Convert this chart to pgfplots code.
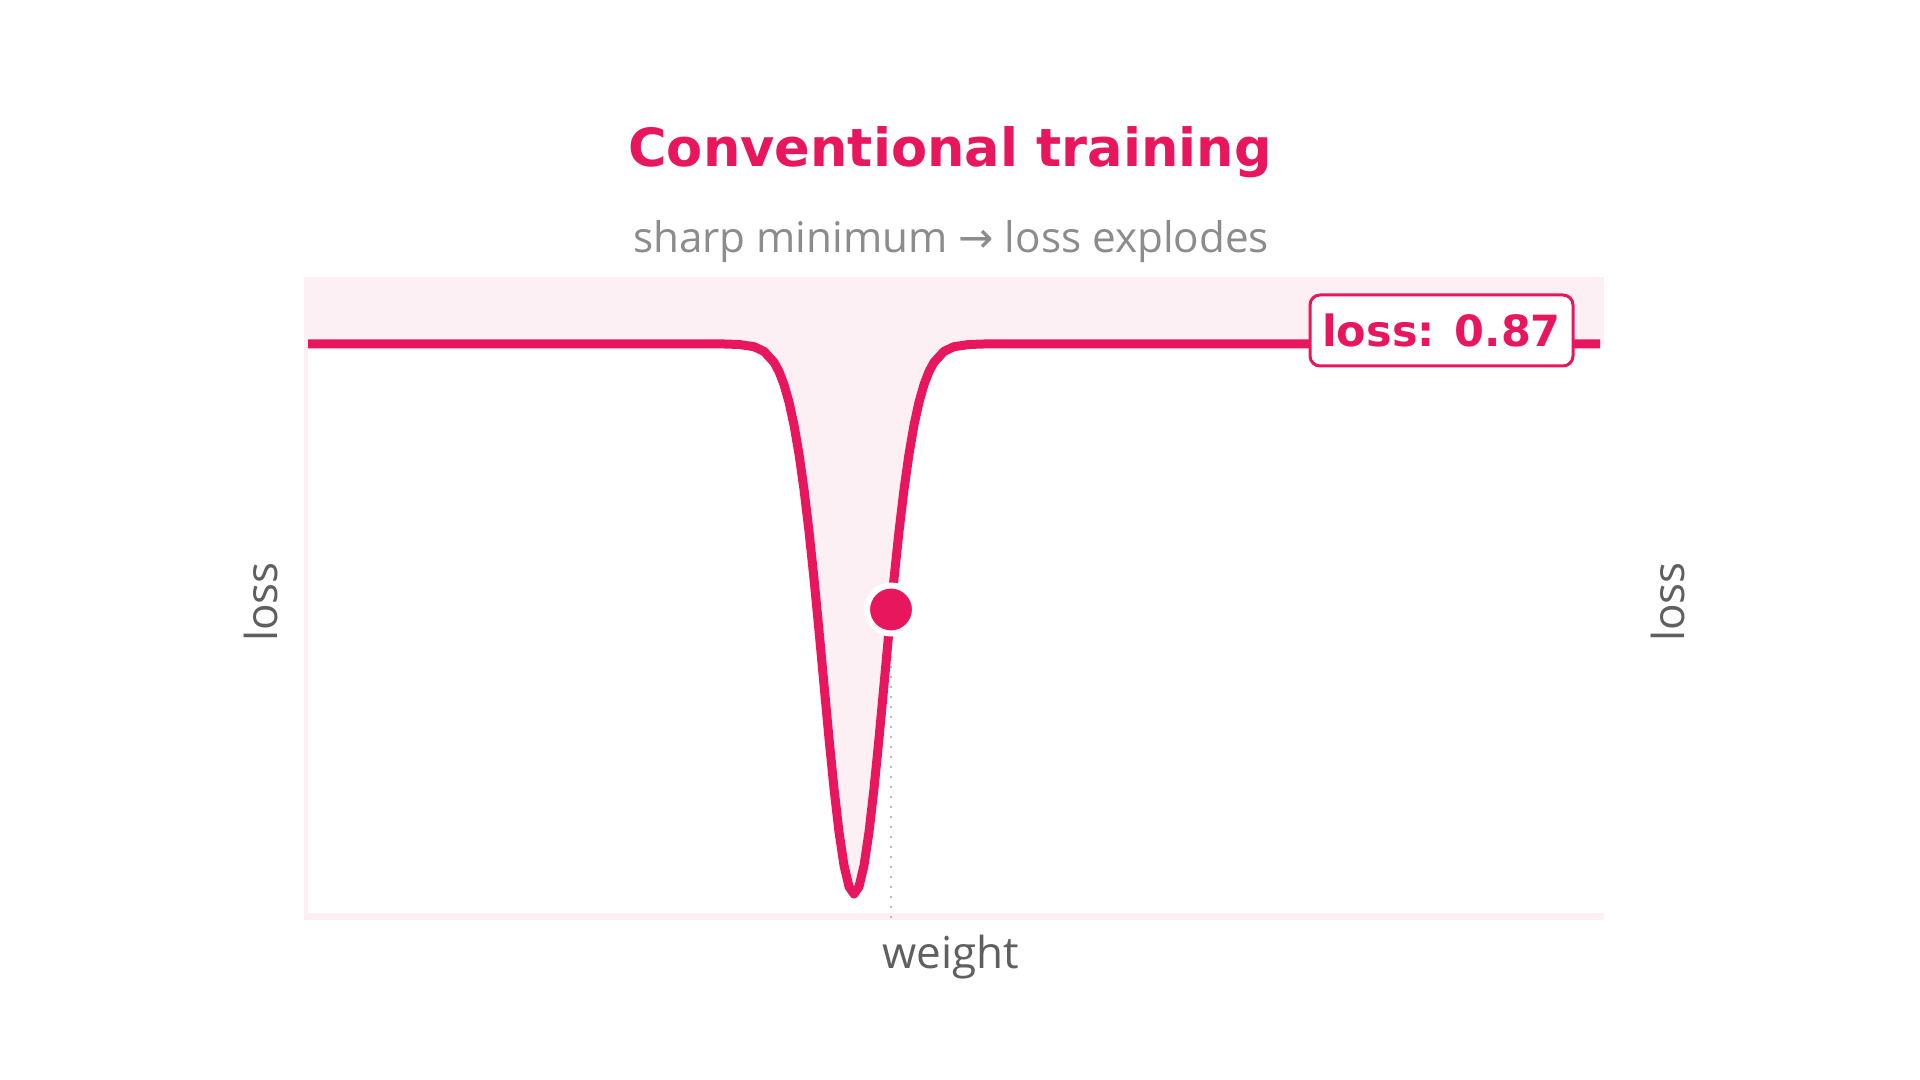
\documentclass[border=0pt]{standalone}
\usepackage{fontspec}
\usepackage{pgfplots}
\usepackage{pgfplotstable}
\pgfplotsset{compat=1.18}
\setmainfont{Open Sans}
\newfontfamily\dejavu{DejaVu Sans}
\definecolor{hot}{HTML}{E8175D}
\definecolor{bgpink}{HTML}{FCF0F4}
\definecolor{subgray}{HTML}{8C8C8C}
\definecolor{labgray}{HTML}{5F5F5F}

\pgfplotstableread{
x y
4 576
300 576
420 576
435 575.5
450 573.3
460 568.6
470 557.7
475 548.4
480 535.4
485 517.9
490 494.9
495 465.9
500 430.5
505 388.7
510 341.2
515 289.3
520 235.2
525 181.5
530 131.4
535 88
540 54.5
545 33.3
550 26
555 33.3
560 54.5
565 88
570 131.4
575 181.5
580 235.2
585 289.3
590 341.2
595 388.7
600 430.5
605 465.9
610 494.9
615 517.9
620 535.4
625 548.4
630 557.7
640 568.6
650 573.3
665 575.5
680 576
1296 576
}\curve

\begin{document}
\begin{tikzpicture}
\fill[white] (0,0) rectangle (960pt,540pt);
\begin{axis}[at={(152pt,80pt)}, anchor=south west, scale only axis,
  width=650pt, height=321.5pt, xmin=0, xmax=1300, ymin=0, ymax=643,
  axis line style={draw=none}, ticks=none,
  axis background/.style={fill=bgpink}, clip=false]
\addplot[fill=white, draw=none] table[x=x,y=y]{\curve} -- (axis cs:1300,576) -- (axis cs:1300,7) -- (axis cs:4,7) -- cycle;
\addplot[draw=gray!55, line width=1pt, dash pattern=on 1pt off 4pt] coordinates {(587,2) (587,300)};
\addplot[hot, line width=4.5pt, line join=round, line cap=butt] table[x=x,y=y]{\curve};
\addplot[only marks, mark=*, mark size=12pt, mark options={fill=hot, draw=white, line width=3pt}] coordinates {(587,310.5)};
\node[draw=hot, line width=1.5pt, fill=white, rounded corners=5pt, minimum width=131.5pt, minimum height=35.5pt, inner sep=0pt, text=hot, font=\dejavu\bfseries\fontsize{21.5}{24}\selectfont] at (axis cs:1137.5,589.5) {loss: 0.87};
\end{axis}
\node[anchor=base, text=hot, font=\dejavu\bfseries\fontsize{26.3}{30}\selectfont] at (475pt,456.8pt) {Conventional training};
\node[anchor=base, text=subgray, font=\fontsize{21.1}{25}\selectfont] at (475.5pt,413.5pt) {sharp minimum {\dejavu →} loss explodes};
\node[text=labgray, font=\fontsize{22}{26}\selectfont] at (475.5pt,61.5pt) {weight};
\node[text=labgray, rotate=90, font=\fontsize{22}{26}\selectfont] at (130.5pt,239pt) {loss};
\node[text=labgray, rotate=90, font=\fontsize{22}{26}\selectfont] at (834pt,239pt) {loss};
\end{tikzpicture}
\end{document}
